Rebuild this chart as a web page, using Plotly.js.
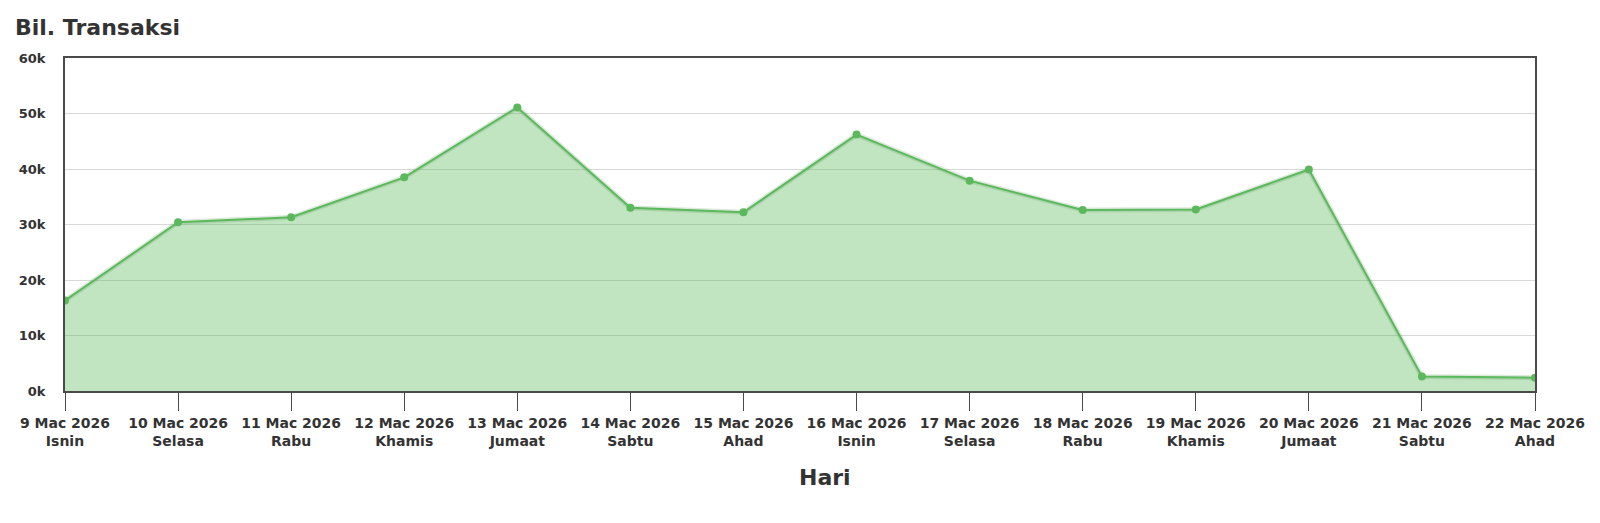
<!DOCTYPE html>
<html>
<head>
<meta charset="utf-8">
<script src="https://cdn.plot.ly/plotly-3.0.1.min.js"></script>
<style>html,body{margin:0;padding:0;background:#fff;}#chart{width:1600px;height:523px;}</style>
</head>
<body>
<div id="chart"></div>
<script>
const dates = ["9 Mac 2026","10 Mac 2026","11 Mac 2026","12 Mac 2026","13 Mac 2026","14 Mac 2026","15 Mac 2026","16 Mac 2026","17 Mac 2026","18 Mac 2026","19 Mac 2026","20 Mac 2026","21 Mac 2026","22 Mac 2026"];
const days = ["Isnin","Selasa","Rabu","Khamis","Jumaat","Sabtu","Ahad","Isnin","Selasa","Rabu","Khamis","Jumaat","Sabtu","Ahad"];
const transactions = [16300,30400,31300,38500,51100,33000,32200,46200,37900,32600,32700,39900,2600,2400];
const yTickVals = [0,10000,20000,30000,40000,50000,60000];
const yTickText = ["0k","10k","20k","30k","40k","50k","60k"];

const categories = dates.map((d,i)=> d + "<br>" + days[i]);
const green = "rgb(92,184,92)";
const fam = "DejaVu Sans, sans-serif";

const traces = [
  {
    x: categories, y: transactions, type: "scatter", mode: "lines",
    fill: "tozeroy", fillcolor: "rgba(92,184,92,0.38)",
    line: {color: "rgba(60,140,60,0.18)", width: 5},
    hoverinfo: "skip", showlegend: false
  },
  {
    x: categories, y: transactions, type: "scatter", mode: "lines+markers",
    line: {color: green, width: 2},
    marker: {color: green, size: 8},
    showlegend: false
  }
];

const layout = {
  width: 1600, height: 523,
  margin: {l: 65, r: 65, t: 58, b: 132},
  paper_bgcolor: "#fff", plot_bgcolor: "#fff",
  font: {family: fam, color: "#333", weight: "bold"},
  title: {text: "Bil. Transaksi", xref: "container", x: 15/1600, xanchor: "left", yref: "container", y: 1 - 27/523, yanchor: "middle",
          font: {family: fam, size: 22, color: "#333", weight: "bold"}},
  xaxis: {
    type: "category", range: [0, categories.length - 1],
    showgrid: false, zeroline: false,
    showline: true, linecolor: "#4a4a4a", linewidth: 2, mirror: true,
    ticks: "outside", ticklen: 18, tickcolor: "#4a4a4a", tickwidth: 1,
    tickfont: {family: fam, size: 14, color: "#333", weight: "bold"},
    automargin: false
  },
  yaxis: {
    range: [0, 60000],
    tickvals: yTickVals, ticktext: yTickText,
    showgrid: true, gridcolor: "#d9d9d9", gridwidth: 1,
    zeroline: false, layer: "above traces",
    showline: true, linecolor: "#4a4a4a", linewidth: 2, mirror: true,
    ticks: "", ticklabelstandoff: 15,
    tickfont: {family: fam, size: 13, color: "#333", weight: "bold"},
    automargin: false
  },
  annotations: [{
    text: "Hari", xref: "paper", yref: "paper", x: (825-65)/1470, y: -(477-391)/333,
    xanchor: "center", yanchor: "middle", showarrow: false,
    font: {family: fam, size: 22, color: "#333", weight: "bold"}
  }]
};

Plotly.newPlot("chart", traces, layout, {displayModeBar: false, responsive: false});
</script>
</body>
</html>
